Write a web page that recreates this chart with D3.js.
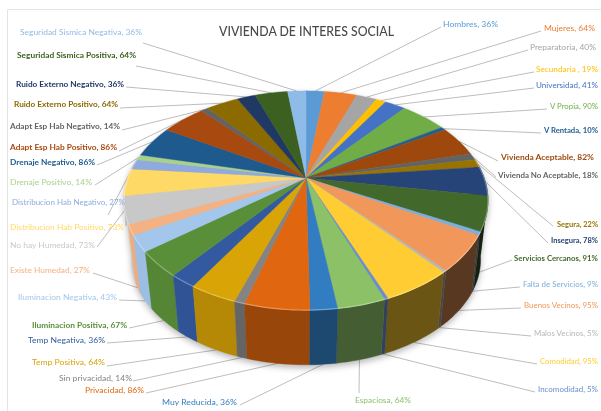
<!DOCTYPE html>
<html>
<head>
<meta charset="utf-8">
<script src="https://cdn.jsdelivr.net/npm/d3@7"></script>
<style>
html, body { margin: 0; padding: 0; background: #fff; }
svg { display: block; filter: blur(0.55px); }
text { font-family: Lato, "Open Sans", sans-serif; }
</style>
</head>
<body>
<svg id="chart" width="601" height="411"></svg>
<script>
// categories and values, clockwise from the top of the pie
const categories = [
  "Hombres", "Mujeres", "Preparatoria", "Secundaria ", "Universidad", "V Propia", "V Rentada",
  "Vivienda Aceptable", "Vivienda No Aceptable", "Segura", "Insegura", "Servicios Cercanos",
  "Falta de Servicios", "Buenos Vecinos", "Malos Vecinos", "Comodidad", "Incomodidad", "Espaciosa",
  "Muy Reducida", "Privacidad", "Sin privacidad", "Temp Positiva", "Temp Negativa",
  "Iluminacion Positiva", "Iluminacion Negativa", "Existe Humedad", "No hay Humedad",
  "Distribucion Hab Positivo", "Distribucion Hab Negativo", "Drenaje Positivo", "Drenaje Negativo",
  "Adapt Esp Hab Positivo", "Adapt Esp Hab Negativo", "Ruido Externo Positivo", "Ruido Externo Negativo",
  "Seguridad Sismica Positiva", "Seguridad Sismica Negativa"
];
const percents = [
  36, 64, 40, 19, 41, 90, 10, 82, 18, 22, 78, 91, 9, 95, 5, 95, 5, 64, 36, 86, 14, 64, 36,
  67, 43, 27, 73, 73, 27, 14, 86, 86, 14, 64, 36, 64, 36
];
const sliceColors = [
  "#5b9bd5", "#ed7d31", "#a5a5a5", "#ffc000", "#4472c4", "#70ad47", "#255e91",
  "#9e480e", "#636363", "#997300", "#264478", "#43682b",
  "#7cafdd", "#f1975a", "#b7b7b7", "#ffcd33", "#698ed0", "#8cc168",
  "#327dc2", "#e0660f", "#848484", "#d9a406", "#335aa1",
  "#5a8f39", "#a3c6ec", "#f4b183", "#c8c8c8",
  "#ffd966", "#8faadc", "#a9d18e", "#1f5a8f",
  "#a8490f", "#636363", "#8b6a00", "#203864",
  "#3b6020", "#8fbbe8"
];

// label layout: x, width, baseline y, then where its leader line starts
const labelLayout = [
  [443, 55, 27, 441, 27], [544, 51, 31, 541, 31], [530, 66, 50, 528, 50], [536, 62, 72, 534, 72],
  [536, 62, 88, 534, 88], [550, 48, 109, 547, 109], [544, 54, 133, 541, 133],
  [501, 93, 160, 498, 161], [498, 100, 178, 496, 177], [557, 41, 227, 553, 226], [551, 47, 243, 548, 243],
  [514, 84, 261, 512, 260], [523, 75, 287, 520, 287], [524, 74, 308, 521, 308], [534, 64, 336, 531, 336],
  [540, 58, 364, 537, 364], [538, 60, 392, 535, 392], [355, 56, 403, 359, 393],
  [162, 75, 405, 240, 405], [85, 59, 393, 146, 393], [59, 73, 381, 133, 381], [32, 73, 365, 107, 366],
  [28, 77, 343, 107, 343], [32, 95, 328, 129, 328], [18, 99, 300, 119, 300], [10, 80, 273, 93, 273],
  [10, 85, 248, 97, 247], [10, 114, 230, 126, 226], [12, 113, 205, 108, 215], [10, 82, 185, 95, 185],
  [10, 85, 165, 97, 165], [10, 107, 150, 119, 151], [10, 110, 129, 122, 130],
  [14, 104, 107, 120, 108], [16, 108, 87, 126, 87], [17, 119, 58, 136, 66], [20, 122, 35, 143, 43]
];

const svg = d3.select("#chart");
const centerX = 306;
const centerY = 178;
const degToRad = Math.PI / 180;

// perspective of the disc: rim point for an angle, 0 at the top, going clockwise
const tilt = 0.205;
function rim(angle) {
  const x = Math.sin(angle);
  const y = -Math.cos(angle);
  const w = 1 - tilt * y;
  return [centerX + 178 * x / w, centerY + 105 * y / w];
}
// the lower edge of the wall is further from the eye, so a bit smaller
function rimBottom(angle) {
  const p = rim(angle);
  return [centerX + (p[0] - centerX) * 0.96, centerY + (p[1] - centerY) * 0.96 + 60];
}

const pie = d3.pie().sort(null).value(d => d)(percents);
const line = d3.line();

function arcPoints(a0, a1, fn) {
  const n = Math.max(2, Math.ceil((a1 - a0) / (degToRad * 1.5)));
  return d3.range(n + 1).map(i => fn(a0 + (a1 - a0) * i / n));
}

// frame of the picture
svg.append("path")
  .attr("d", "M7.5,411V9.5H601")
  .attr("fill", "none")
  .attr("stroke", "#e4e4e4");

// wall gets darker from left to right
const wallShade = d3.scaleLinear()
  .domain([100, 150, 165, 185, 215, 260])
  .range([0.3, 0.42, 0.48, 0.66, 0.92, 1])
  .clamp(true);

const pieGroup = svg.append("g").style("filter", "drop-shadow(0 3px 3px rgba(0,0,0,0.28))");

const wallSlices = pie
  .map((d, i) => ({ d: d, i: i, mid: (d.startAngle + d.endAngle) / 2 }))
  .filter(s => s.d.endAngle > 80 * degToRad && s.d.startAngle < 280 * degToRad)
  .sort((a, b) => Math.abs(b.mid - Math.PI) - Math.abs(a.mid - Math.PI));

pieGroup.selectAll("path.wall")
  .data(wallSlices)
  .join("path")
  .attr("class", "wall")
  .attr("d", s => {
    const top = arcPoints(s.d.startAngle, s.d.endAngle, rim);
    const bottom = arcPoints(s.d.startAngle, s.d.endAngle, rimBottom).reverse();
    return line(top.concat(bottom)) + "Z";
  })
  .attr("fill", s => d3.interpolateRgb("#000", sliceColors[s.i])(wallShade(s.mid / degToRad)))
  .attr("stroke", s => d3.interpolateRgb("#000", sliceColors[s.i])(wallShade(s.mid / degToRad)))
  .attr("stroke-width", 0.4);

pieGroup.selectAll("path.top")
  .data(pie)
  .join("path")
  .attr("class", "top")
  .attr("d", d => line([[centerX, centerY]].concat(arcPoints(d.startAngle, d.endAngle, rim))) + "Z")
  .attr("fill", (d, i) => sliceColors[i])
  .attr("stroke", (d, i) => sliceColors[i])
  .attr("stroke-width", 0.4);

// light bevel along the front of the rim
pieGroup.selectAll("path.bevel")
  .data(wallSlices)
  .join("path")
  .attr("class", "bevel")
  .attr("d", s => line(arcPoints(s.d.startAngle, s.d.endAngle, rim)))
  .attr("fill", "none")
  .attr("stroke", s => d3.interpolateRgb(sliceColors[s.i], "#fff")(0.3))
  .attr("stroke-width", 1.2);

// leader lines go to the wall on the front, to the rim on the back
const leaders = svg.append("g");
pie.forEach((d, i) => {
  const mid = (d.startAngle + d.endAngle) / 2;
  const end = (mid > 100 * degToRad && mid < 250 * degToRad) ? rimBottom(mid) : rim(mid);
  leaders.append("line")
    .attr("x1", labelLayout[i][3])
    .attr("y1", labelLayout[i][4])
    .attr("x2", end[0])
    .attr("y2", end[1])
    .attr("stroke", "#bdbdbd")
    .attr("stroke-width", 1);
});
// the pie stays on top of the lines that would cross it
leaders.lower();

svg.selectAll("text.label")
  .data(categories)
  .join("text")
  .attr("class", "label")
  .attr("x", (d, i) => labelLayout[i][0])
  .attr("y", (d, i) => labelLayout[i][2])
  .attr("textLength", (d, i) => labelLayout[i][1])
  .attr("lengthAdjust", "spacingAndGlyphs")
  .attr("font-size", 8.2)
  .attr("font-weight", (d, i) => d3.hsl(sliceColors[i]).l < 0.4 ? 700 : 400)
  .attr("fill", (d, i) => sliceColors[i])
  .text((d, i) => d + ", " + percents[i] + "%");

svg.append("text")
  .attr("x", 219)
  .attr("y", 36)
  .attr("textLength", 175)
  .attr("lengthAdjust", "spacingAndGlyphs")
  .attr("font-size", 14)
  .attr("font-weight", 500)
  .attr("fill", "#4a4a4a")
  .text("VIVIENDA DE INTERES SOCIAL");
</script>
</body>
</html>
